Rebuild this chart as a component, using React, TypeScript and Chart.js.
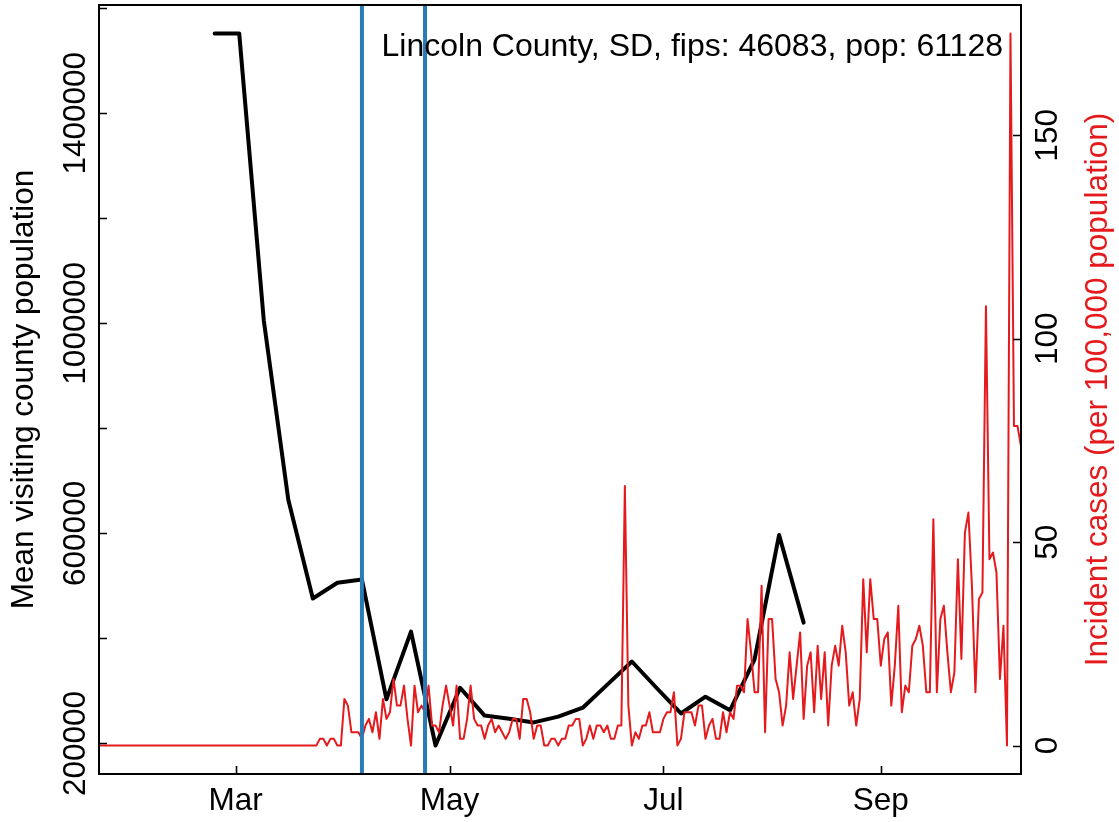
import React, { useEffect, useRef } from "react";
import { Chart, registerables } from "chart.js";

Chart.register(...registerables);

// ---------------- data ----------------
const countyPopulation = 61128;
const annotationText = "Lincoln County, SD, fips: 46083, pop: 61128";
const leftTitle = "Mean visiting county population";
const rightTitle = "Incident cases (per 100,000 population)";

// daily new cases, one value per day starting at caseStartDate
const caseStartDate = "2020-01-22";
const dailyCases = [
  0, 0, 0, 0, 0, 0, 0, 0, 0, 0,
  0, 0, 0, 0, 0, 0, 0, 0, 0, 0,
  0, 0, 0, 0, 0, 0, 0, 0, 0, 0,
  0, 0, 0, 0, 0, 0, 0, 0, 0, 0,
  0, 0, 0, 0, 0, 0, 0, 0, 0, 0,
  0, 0, 0, 0, 0, 0, 0, 0, 0, 0,
  0, 0, 0,
  // Mar 24 ->
  1, 1, 0, 1, 1, 0, 0, 7, 6, 2, 2, 2, 1, 3, 4, 2, 5, 1, 7, 4,
  5, 10, 6, 6, 9, 4, 0, 9, 5, 6, 5, 9, 3, 3, 2, 6, 9, 6, 3, 9,
  1, 1, 4, 9, 4, 3, 3, 1, 3, 4, 2, 3, 2, 1, 2, 4, 4, 1, 7, 7,
  5, 1, 3, 3, 0, 0, 1, 1, 0, 1, 1, 3, 3, 4, 4, 0, 1, 3, 1, 3,
  3, 2, 3, 1, 1, 3, 3, 39, 6, 0, 2, 1, 3, 3, 5, 2, 2, 2, 4, 5,
  5, 8, 0, 1, 5, 5, 5, 3, 6, 6, 1, 3, 4, 1, 1, 5, 2, 5, 4, 9,
  9, 8, 19, 14, 8, 8, 24, 2, 19, 19, 10, 8, 3, 6, 14, 7, 12, 17, 4, 12,
  14, 5, 15, 7, 14, 3, 12, 15, 12, 18, 14, 6, 8, 3, 7, 25, 14, 25, 19, 19,
  12, 16, 17, 6, 12, 21, 5, 9, 8, 15, 16, 18, 15, 8, 8, 34, 8, 19, 21, 14,
  8, 11, 28, 13, 32, 35, 24, 8, 22, 23, 66, 28, 29, 26, 10, 18, 0, 107, 48, 48,
  45,
];

// weekly mobility (mean visiting county population)
const mobilityWeeks = [
  "2020-02-24", "2020-03-02", "2020-03-09", "2020-03-16", "2020-03-23",
  "2020-03-30", "2020-04-06", "2020-04-13", "2020-04-20", "2020-04-27",
  "2020-05-04", "2020-05-11", "2020-05-18", "2020-05-25", "2020-06-01",
  "2020-06-08", "2020-06-15", "2020-06-22", "2020-06-29", "2020-07-06",
  "2020-07-13", "2020-07-20", "2020-07-27", "2020-08-03", "2020-08-10",
];
const mobilityValues = [
  1552000, 1552000, 1006000, 664000, 476000,
  506000, 512000, 284000, 413000, 196000,
  306000, 253000, 247000, 240000, 251000,
  268000, 312000, 356000, 306000, 257000,
  289000, 263000, 360000, 597000, 430000,
];

// vertical reference lines
const interventionDates = ["2020-04-06", "2020-04-24"];

// axes
const xRangeDates = ["2020-01-22", "2020-10-11"];
const xTickDates = ["2020-03-01", "2020-05-01", "2020-07-01", "2020-09-01"];
const xTickLabels = ["Mar", "May", "Jul", "Sep"];
const leftTickValues = [200000, 400000, 600000, 800000, 1000000, 1200000, 1400000, 1600000];
const leftTickLabels = ["200000", "", "600000", "", "1000000", "", "1400000", ""];
const rightTickValues = [0, 50, 100, 150];
const rightTickLabels = ["0", "50", "100", "150"];

// ---------------- helpers ----------------
const ORIGIN = Date.UTC(2020, 2, 1);
function dayNum(s: string): number {
  const [y, m, d] = s.split("-").map(Number);
  return Math.round((Date.UTC(y, m - 1, d) - ORIGIN) / 86400000);
}
function padded(min: number, max: number) {
  const r = max - min;
  return { min: min - 0.04 * r, max: max + 0.04 * r };
}

const FAMILY = '"Liberation Sans", Arial, Helvetica, sans-serif';
const FONT = "31.5px " + FAMILY;
const RED = "#e41a1c";
const BLUE = "#2a7ab8";

const rAxesPlugin = {
  id: "rAxes",
  afterDraw(chart: any) {
    const { ctx, chartArea: a, scales } = chart;
    const xs = scales.x, yL = scales.yL, yR = scales.yR;
    ctx.save();
    ctx.strokeStyle = "#000";
    ctx.lineWidth = 2;
    ctx.strokeRect(a.left, a.top, a.right - a.left, a.bottom - a.top);
    const TL = 8;
    ctx.lineWidth = 1.6;
    ctx.beginPath();
    xTickDates.forEach((d) => {
      const px = Math.round(xs.getPixelForValue(dayNum(d))) + 0.5;
      ctx.moveTo(px, a.bottom);
      ctx.lineTo(px, a.bottom - TL);
    });
    leftTickValues.forEach((v) => {
      const py = Math.round(yL.getPixelForValue(v)) + 0.5;
      ctx.moveTo(a.left, py);
      ctx.lineTo(a.left + TL, py);
    });
    rightTickValues.forEach((v) => {
      const py = Math.round(yR.getPixelForValue(v)) + 0.5;
      ctx.moveTo(a.right, py);
      ctx.lineTo(a.right - TL, py);
    });
    ctx.stroke();

    ctx.font = FONT;
    ctx.fillStyle = "#000";
    ctx.textAlign = "center";
    ctx.textBaseline = "alphabetic";
    xTickDates.forEach((d, i) => {
      ctx.fillText(xTickLabels[i], xs.getPixelForValue(dayNum(d)), a.bottom + 36);
    });
    const rot = (txt: string, x: number, y: number) => {
      ctx.save();
      ctx.translate(x, y);
      ctx.rotate(-Math.PI / 2);
      ctx.fillText(txt, 0, 0);
      ctx.restore();
    };
    leftTickValues.forEach((v, i) => {
      if (leftTickLabels[i]) rot(leftTickLabels[i], a.left - 14, yL.getPixelForValue(v));
    });
    rightTickValues.forEach((v, i) => {
      if (rightTickLabels[i]) rot(rightTickLabels[i], a.right + 36, yR.getPixelForValue(v));
    });
    const midY = (a.top + a.bottom) / 2;
    rot(leftTitle, a.left - 66, midY);
    ctx.fillStyle = RED;
    rot(rightTitle, a.right + 86, midY);

    ctx.fillStyle = "#000";
    ctx.font = "32px " + FAMILY;
    ctx.textAlign = "right";
    ctx.fillText(annotationText, a.right - 18, a.top + 51);
    ctx.restore();
  },
};

export default function App() {
  const canvasRef = useRef<HTMLCanvasElement | null>(null);

  useEffect(() => {
    const canvas = canvasRef.current;
    if (!canvas) return;

    const start = dayNum(caseStartDate);
    const rates = dailyCases.map((c) => (c * 100000) / countyPopulation);
    const casePts = rates.map((r, i) => ({ x: start + i, y: r }));
    const mobPts = mobilityWeeks.map((d, i) => ({ x: dayNum(d), y: mobilityValues[i] }));

    const yLRange = padded(Math.min(...mobilityValues), Math.max(...mobilityValues));
    const yRRange = padded(Math.min(...rates), Math.max(...rates));

    const vlineSets = interventionDates.map((d) => ({
      label: "intervention " + d,
      data: [
        { x: dayNum(d), y: yRRange.min },
        { x: dayNum(d), y: yRRange.max },
      ],
      yAxisID: "yR",
      borderColor: BLUE,
      borderWidth: 4,
      pointRadius: 0,
      order: 0,
    }));

    const chart = new Chart(canvas, {
      type: "line",
      data: {
        datasets: [
          ...vlineSets,
          {
            label: "Incident cases",
            data: casePts,
            yAxisID: "yR",
            borderColor: RED,
            borderWidth: 2,
            pointRadius: 0,
            tension: 0,
            borderJoinStyle: "round",
            order: 1,
          },
          {
            label: "Mean visiting county population",
            data: mobPts,
            yAxisID: "yL",
            borderColor: "#000",
            borderWidth: 4,
            pointRadius: 0,
            tension: 0,
            borderJoinStyle: "round",
            borderCapStyle: "round",
            order: 2,
          },
        ] as any,
      },
      options: {
        animation: false,
        responsive: false,
        devicePixelRatio: 1,
        parsing: false as any,
        normalized: true,
        layout: { padding: { left: 99, right: 98, top: 5, bottom: 48 } },
        plugins: { legend: { display: false }, tooltip: { enabled: false } },
        events: [],
        scales: {
          x: {
            type: "linear",
            display: false,
            min: dayNum(xRangeDates[0]),
            max: dayNum(xRangeDates[1]),
          },
          yL: {
            type: "linear",
            position: "left",
            display: false,
            min: yLRange.min,
            max: yLRange.max,
          },
          yR: {
            type: "linear",
            position: "right",
            display: false,
            min: yRRange.min,
            max: yRRange.max,
          },
        },
      },
      plugins: [rAxesPlugin],
    });
    return () => chart.destroy();
  }, []);

  return (
    <div style={{ position: "absolute", left: 0, top: 0, width: 1119, height: 822, background: "#fff" }}>
      <canvas ref={canvasRef} width={1119} height={822} />
    </div>
  );
}
